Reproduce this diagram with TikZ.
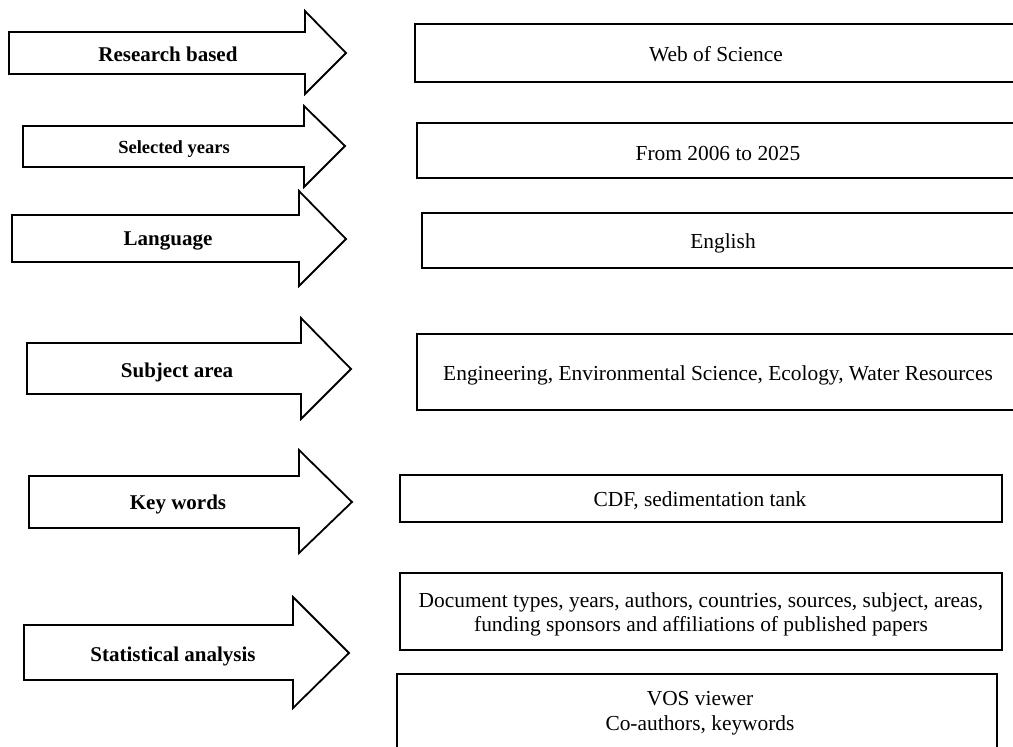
\documentclass[tikz,border=0pt]{standalone}
\usepackage{fontspec}
\setmainfont{Liberation Serif}
\begin{document}
\begin{tikzpicture}[x=1pt,y=-1pt,
  shp/.style={draw=black,line width=1.8pt,line join=miter,fill=white},
  lbl/.style={font=\fontsize{21}{25}\selectfont\bfseries,inner sep=0pt,yshift=-2pt},
  txt/.style={font=\fontsize{21.4}{24}\selectfont,inner sep=0pt,align=center,yshift=-2pt},
  boxn/.style={draw=black,line width=1.8pt,rectangle,inner sep=0pt,fill=white}]
\useasboundingbox (0,0) rectangle (1013,747);
\clip (0,0) rectangle (1013,747);
\fill[white] (0,0) rectangle (1013,747);
% arrows: l,t,b,hb,ht,hbm,tx,ty
\newcommand\bigarrow[8]{\draw[shp] (#1,#2) -- (#4,#2) -- (#4,#5) -- (#7,#8) -- (#4,#6) -- (#4,#3) -- (#1,#3) -- cycle;}
\bigarrow{9}{32}{74}{305}{11}{94}{346}{53}
\bigarrow{23}{126}{167}{304}{106}{187}{345}{146}
\bigarrow{12}{215}{262}{299}{191}{286}{346}{239}
\bigarrow{27}{343}{394}{301}{318}{419}{351}{369}
\bigarrow{29}{476}{528}{299}{450}{553}{352}{502}
\bigarrow{24}{625}{680}{293}{597}{708}{349}{653}
\node[lbl] (l1) at (168,52) {Research based};
\node[lbl,font=\fontsize{18.5}{22}\selectfont\bfseries] (l2) at (174,147) {Selected years};
\node[lbl] (l3) at (168,239) {Language};
\node[lbl] (l4) at (177,370) {Subject area};
\node[lbl] (l5) at (178,502) {Key words};
\node[lbl] (l6) at (173,654) {Statistical analysis};
% boxes
\node[boxn,minimum width=605pt,minimum height=58pt] (b1) at (717.5,53) {};
\node[boxn,minimum width=603pt,minimum height=55pt] (b2) at (718.5,150.5) {};
\node[boxn,minimum width=598pt,minimum height=55pt] (b3) at (721,240.5) {};
\node[boxn,minimum width=603pt,minimum height=76pt] (b4) at (718.5,372) {};
\node[boxn,minimum width=602pt,minimum height=47pt] (b5) at (701,498.5) {};
\node[boxn,minimum width=602pt,minimum height=77pt] (b6) at (701,611.5) {};
\node[boxn,minimum width=600pt,minimum height=90pt] (b7) at (697,719) {};
\node[txt] (t1) at (716,52) {Web of Science};
\node[txt] (t2) at (718,151) {From 2006 to 2025};
\node[txt] (t3) at (723,241) {English};
\node[txt] (t4) at (718,373) {Engineering, Environmental Science, Ecology, Water Resources};
\node[txt] (t5) at (700,499) {CDF, sedimentation tank};
\node[txt,font=\fontsize{21.4}{23.5}\selectfont] (t6) at (701,612.5) {Document types, years, authors, countries, sources, subject, areas,\\funding sponsors and affiliations of published papers};
\node[txt,font=\fontsize{21.4}{25}\selectfont] (t7) at (700,711) {VOS viewer\\Co-authors, keywords};
\end{tikzpicture}
\end{document}
